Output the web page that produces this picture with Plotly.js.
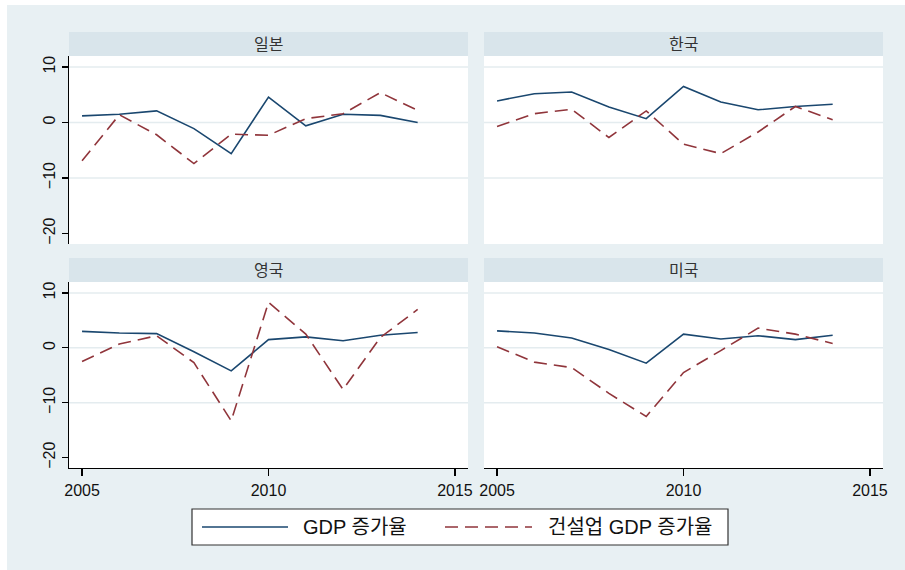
<!DOCTYPE html>
<html>
<head>
<meta charset="utf-8">
<script src="https://cdn.plot.ly/plotly-3.0.1.min.js"></script>
<style>html,body{margin:0;padding:0;background:#fff;}#chart{width:905px;height:570px;}</style>
</head>
<body>
<div id="chart"></div>
<script>
// ---- data ----
const years = [2005, 2006, 2007, 2008, 2009, 2010, 2011, 2012, 2013, 2014];
const panelNames = ["일본", "한국", "영국", "미국"];
const seriesNames = ["GDP 증가율", "건설업 GDP 증가율"];
const jpGdp = [1.2, 1.5, 2.1, -1.1, -5.6, 4.6, -0.6, 1.5, 1.3, 0.0];
const jpCon = [-6.9, 1.4, -2.2, -7.4, -2.1, -2.3, 0.7, 1.6, 5.4, 2.2];
const krGdp = [3.9, 5.2, 5.5, 2.8, 0.7, 6.5, 3.7, 2.3, 2.9, 3.3];
const krCon = [-0.7, 1.6, 2.4, -2.7, 2.1, -3.9, -5.6, -1.7, 2.9, 0.5];
const ukGdp = [3.0, 2.7, 2.6, -0.7, -4.2, 1.5, 2.0, 1.3, 2.3, 2.8];
const ukCon = [-2.5, 0.7, 2.2, -2.7, -13.3, 8.3, 2.5, -7.6, 1.9, 7.0];
const usGdp = [3.1, 2.7, 1.8, -0.3, -2.8, 2.5, 1.6, 2.2, 1.5, 2.3];
const usCon = [0.2, -2.6, -3.6, -8.3, -12.5, -4.5, -0.5, 3.6, 2.5, 0.8];
const yTicks = [-20, -10, 0, 10];
const yGrid = [-10, 0, 10];
const xTicks = [2005, 2010, 2015];

// ---- styling ----
const W = 905, H = 570;
const FONT = "Liberation Sans, Arial, Noto Sans CJK KR, sans-serif";
const NAVY = "#1a476f", MAROON = "#90353b";
const BG = "#e8f0f3", STRIP = "#d9e5eb", GRID = "#e4ecef";
const px = v => v / W, py = v => 1 - v / H;

const gdp = [jpGdp, krGdp, ukGdp, usGdp];
const con = [jpCon, krCon, ukCon, usCon];
const xDom = [[px(69), px(468)], [px(484), px(883)]];
const yDom = [[py(244), py(56)], [py(468), py(282)]];
const stripY = [[py(56), py(32)], [py(282), py(258)]];

const traces = [];
const layout = {
  width: W, height: H,
  margin: {l: 0, r: 0, t: 0, b: 0},
  paper_bgcolor: BG, plot_bgcolor: "#ffffff",
  showlegend: false,
  font: {family: FONT, size: 16, color: "#222"},
  shapes: [], annotations: []
};

// white outer edges
layout.shapes.push({type: "rect", xref: "paper", yref: "paper", x0: 0, x1: 1, y0: py(5), y1: 1, fillcolor: "#ffffff", line: {width: 0}});
layout.shapes.push({type: "rect", xref: "paper", yref: "paper", x0: 0, x1: px(7), y0: 0, y1: 1, fillcolor: "#ffffff", line: {width: 0}});

for (let i = 0; i < 4; i++) {
  const col = i % 2, row = Math.floor(i / 2);
  const n = i + 1;
  const xa = "x" + (n === 1 ? "" : n), ya = "y" + (n === 1 ? "" : n);
  const xk = "xaxis" + (n === 1 ? "" : n), yk = "yaxis" + (n === 1 ? "" : n);
  traces.push({x: years, y: gdp[i], xaxis: xa, yaxis: ya, type: "scatter", mode: "lines",
    name: seriesNames[0], line: {color: NAVY, width: 1.6}, hoverinfo: "skip"});
  traces.push({x: years, y: con[i], xaxis: xa, yaxis: ya, type: "scatter", mode: "lines",
    name: seriesNames[1], line: {color: MAROON, width: 1.6, dash: "13px,7px"}, hoverinfo: "skip"});
  const bottom = row === 1, left = col === 0;
  layout[xk] = {
    domain: xDom[col], anchor: ya, range: [2004.65, 2015.35],
    showgrid: false, zeroline: false,
    showline: bottom, linecolor: "#000", linewidth: 1.3,
    ticks: bottom ? "outside" : "", ticklen: 7, tickwidth: 1.3, tickcolor: "#000",
    tickvals: xTicks, showticklabels: bottom,
    tickfont: {family: FONT, size: 16, color: "#111"}
  };
  layout[yk] = {
    domain: yDom[row], anchor: xa, range: [-21.9, 12],
    showgrid: false, zeroline: false,
    showline: left, linecolor: "#000", linewidth: 1.3,
    ticks: left ? "outside" : "", ticklen: 6, tickwidth: 1.3, tickcolor: "#000",
    tickvals: yTicks, showticklabels: left, tickangle: -90,
    tickfont: {family: FONT, size: 16, color: "#111"}
  };
  // gridlines
  yGrid.forEach(g => layout.shapes.push({type: "line", xref: xa + " domain", yref: ya,
    x0: 0, x1: 1, y0: g, y1: g, layer: "below", line: {color: GRID, width: 1.5}}));
  // strip header
  layout.shapes.push({type: "rect", xref: "paper", yref: "paper",
    x0: xDom[col][0], x1: xDom[col][1], y0: stripY[row][0], y1: stripY[row][1],
    fillcolor: STRIP, line: {width: 0}});
  layout.annotations.push({xref: "paper", yref: "paper",
    x: (xDom[col][0] + xDom[col][1]) / 2, y: (stripY[row][0] + stripY[row][1]) / 2,
    text: panelNames[i], showarrow: false, xanchor: "center", yanchor: "middle",
    font: {family: FONT, size: 16, color: "#333"}});
}

// legend box
layout.shapes.push({type: "rect", xref: "paper", yref: "paper",
  x0: px(192), x1: px(728), y0: py(545), y1: py(509), fillcolor: "#ffffff",
  line: {color: "#333", width: 1.2}});
layout.shapes.push({type: "line", xref: "paper", yref: "paper",
  x0: px(202), x1: px(288), y0: py(527), y1: py(527), line: {color: NAVY, width: 1.6}});
layout.shapes.push({type: "line", xref: "paper", yref: "paper",
  x0: px(445), x1: px(532), y0: py(527), y1: py(527), line: {color: MAROON, width: 1.6, dash: "13px,7px"}});
layout.annotations.push({xref: "paper", yref: "paper", x: px(301), y: py(527),
  text: seriesNames[0], showarrow: false, xanchor: "left", yanchor: "middle",
  font: {family: FONT, size: 20, color: "#111"}});
layout.annotations.push({xref: "paper", yref: "paper", x: px(546), y: py(527),
  text: seriesNames[1], showarrow: false, xanchor: "left", yanchor: "middle",
  font: {family: FONT, size: 20, color: "#111"}});

Plotly.newPlot("chart", traces, layout, {staticPlot: true, displayModeBar: false});
</script>
</body>
</html>
